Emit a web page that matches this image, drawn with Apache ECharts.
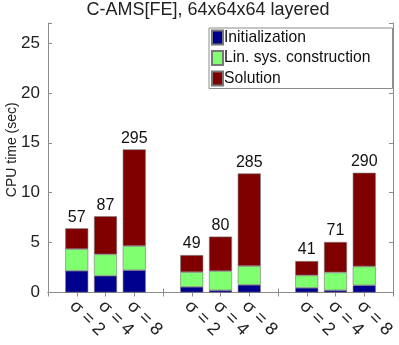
<!DOCTYPE html>
<html>
<head>
<meta charset="utf-8">
<script src="https://cdn.jsdelivr.net/npm/echarts@6/dist/echarts.min.js"></script>
<style>
  html, body { margin: 0; padding: 0; background: #fff; }
  #chart { width: 399px; height: 345px; }
</style>
</head>
<body>
<div id="chart"></div>
<script>
// slot of each bar on the x axis (0..12, empty slots 4 and 8 separate the groups)
var positions = [1, 2, 3, 5, 6, 7, 9, 10, 11];
var sigmaLabels = ['σ = 2', 'σ = 4', 'σ = 8', 'σ = 2', 'σ = 4', 'σ = 8', 'σ = 2', 'σ = 4', 'σ = 8'];
var initTime = [2.18, 1.68, 2.24, 0.57, 0.23, 0.77, 0.47, 0.23, 0.73];
var linSysTime = [2.17, 2.14, 2.41, 1.47, 1.91, 1.87, 1.24, 1.78, 1.88];
var solutionTime = [2.08, 3.82, 9.69, 1.71, 3.46, 9.29, 1.44, 3.05, 9.38];
var iterLabels = ['57', '87', '295', '49', '80', '285', '41', '71', '290'];
var yTicks = [0, 5, 10, 15, 20, 25];

var font = 'Liberation Sans, Arial, sans-serif';
var axisGray = '#8c8c8c';
var slotCount = 13;

function slots(vals) {
  var out = [];
  for (var k = 0; k < slotCount; k++) out.push('-');
  vals.forEach(function (v, i) { out[positions[i]] = v; });
  return out;
}

var categories = slots(sigmaLabels).map(function (s) { return s === '-' ? '' : s; });
var labelSlots = slots(iterLabels);

var chart = echarts.init(document.getElementById('chart'));

var xBase = {
  type: 'category',
  data: categories,
  boundaryGap: false,
  splitLine: { show: false },
  axisLine: { lineStyle: { color: axisGray, width: 1 } },
  axisTick: { inside: true, length: 4, interval: 0, lineStyle: { color: axisGray } }
};

var option = {
  animation: false,
  textStyle: { fontFamily: font },
  title: {
    text: 'C-AMS[FE], 64x64x64 layered',
    left: 208,
    textAlign: 'center',
    top: 1,
    padding: 0,
    textStyle: { fontSize: 18, fontWeight: 'normal', color: '#222', fontFamily: font }
  },
  legend: {
    orient: 'vertical',
    left: 209,
    top: 28,
    itemWidth: 11,
    itemHeight: 14,
    itemGap: 4.5,
    padding: [1.5, 22, 2, 2],
    borderColor: axisGray,
    borderWidth: 1,
    backgroundColor: '#fff',
    icon: 'rect',
    textStyle: { fontSize: 15.7, lineHeight: 14, color: '#111', fontFamily: font, padding: [0, 0, 0, -4] },
    data: ['Initialization', 'Lin. sys. construction', 'Solution']
  },
  grid: { left: 48, right: 6, top: 23, bottom: 52.5, outerBoundsMode: 'none', containLabel: false },
  xAxis: [
    Object.assign({}, xBase, {
      position: 'bottom',
      axisLabel: {
        interval: 0,
        rotate: -45,
        margin: 15,
        fontSize: 18,
        color: '#222',
        fontFamily: font,
        padding: [11, 0, 0, -6]
      }
    }),
    Object.assign({}, xBase, {
      position: 'top',
      axisLabel: { show: false }
    })
  ],
  yAxis: [
    {
      type: 'value',
      min: 0,
      max: 27,
      interval: 5,
      name: 'CPU time (sec)',
      nameLocation: 'middle',
      nameGap: 29,
      nameMoveOverlap: false,
      nameTextStyle: { fontSize: 14, color: '#222', fontFamily: font, padding: [0, 0, 0, 16] },
      splitLine: { show: false },
      axisLine: { show: true, lineStyle: { color: axisGray, width: 1 } },
      axisTick: { show: true, inside: true, length: 4, lineStyle: { color: axisGray } },
      axisLabel: {
        fontSize: 17,
        color: '#222',
        margin: 8,
        fontFamily: font,
        formatter: function (v) { return yTicks.indexOf(v) >= 0 ? String(v) : ''; }
      }
    },
    {
      type: 'value',
      min: 0,
      max: 27,
      interval: 5,
      position: 'right',
      splitLine: { show: false },
      axisLine: { show: true, lineStyle: { color: axisGray, width: 1 } },
      axisTick: { show: true, inside: true, length: 4, lineStyle: { color: axisGray } },
      axisLabel: { show: false }
    }
  ],
  series: [
    {
      name: 'Initialization',
      type: 'bar',
      stack: 'cpu',
      barWidth: 23,
      itemStyle: { color: '#00008f', borderColor: '#777', borderWidth: 0.6 },
      data: slots(initTime)
    },
    {
      name: 'Lin. sys. construction',
      type: 'bar',
      stack: 'cpu',
      barWidth: 23,
      itemStyle: { color: '#80ff70', borderColor: '#777', borderWidth: 0.6 },
      data: slots(linSysTime)
    },
    {
      name: 'Solution',
      type: 'bar',
      stack: 'cpu',
      barWidth: 23,
      itemStyle: { color: '#800000', borderColor: '#777', borderWidth: 0.6 },
      label: {
        show: true,
        position: 'top',
        distance: 3,
        fontSize: 16,
        color: '#111',
        fontFamily: font,
        formatter: function (p) { return labelSlots[p.dataIndex]; }
      },
      data: slots(solutionTime)
    }
  ]
};

chart.setOption(option);
</script>
</body>
</html>
